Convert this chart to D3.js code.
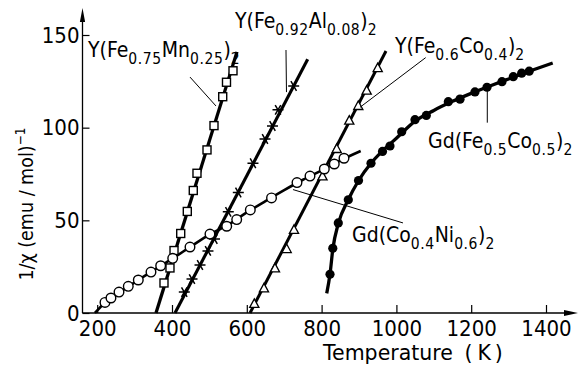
<!DOCTYPE html>
<html><head><meta charset="utf-8">
<script src="https://cdn.jsdelivr.net/npm/d3@7/dist/d3.min.js"></script>
<style>
html,body{margin:0;padding:0;background:#fff;}
svg text{font-family:"DejaVu Sans Condensed","Liberation Sans Narrow","DejaVu Sans",sans-serif;fill:#000;}
svg text.wide{font-family:"DejaVu Sans",sans-serif;}
</style></head>
<body><svg id="c" width="578" height="365"></svg>
<script>
// ---------------- data ----------------
const xTicks = [200, 400, 600, 800, 1000, 1200, 1400];
const yTicks = [0, 50, 100, 150];

// Y(Fe0.75Mn0.25)2 - open squares
const mnT = [378.6, 394.6, 405.4, 423.3, 440.9, 456.9, 466.8, 493.6, 512.3, 535.6, 545.7, 563.1];
const mnV = [16.2, 24.3, 33.7, 42.9, 54.8, 66.1, 75.4, 88.0, 101.1, 116.7, 124.5, 130.7];
const mnLineT = [357.2, 573.7];
const mnLineV = [0, 140.9];

// Y(Fe0.92Al0.08)2 - asterisks
const alT = [432.9, 453.5, 474.9, 496.2, 513.6, 550.5, 577.3, 616.5, 648.7, 668.7, 683.4, 725.4];
const alV = [11.3, 18.3, 25.9, 33.5, 39.9, 54.6, 65.0, 80.8, 93.9, 100.9, 109.6, 122.5];
const alLineT = [408.0, 762.8];
const alLineV = [0, 136.9];

// Y(Fe0.6Co0.4)2 - open triangles
const coT = [620.1, 645.9, 675.3, 706.6, 726.2, 802.4, 840.4, 874.0, 898.1, 920.5, 950.0];
const coV = [4.9, 13.3, 24.1, 34.5, 44.8, 73.7, 88.5, 103.8, 111.7, 120.0, 132.1];
const coLineT = [608.6, 972.2];
const coLineV = [0, 141.4];

// Gd(Co0.4Ni0.6)2 - open circles
const niT = [220.8, 236.8, 258.3, 283.1, 309.9, 343.8, 369.7, 401.9, 448.1, 501.5, 546.3, 573.0, 609.4, 666.1, 734.2, 769.0, 807.3, 833.9, 859.9];
const niV = [5.7, 8.1, 11.3, 14.4, 17.8, 22.1, 25.5, 29.5, 35.6, 42.6, 46.8, 50.4, 55.6, 62.1, 70.4, 73.9, 77.7, 80.4, 83.5];
const niLineT = [194, 221, 260, 300, 350, 400, 450, 500, 550, 600, 650, 700, 750, 800, 850, 904.5];
const niLineV = [0, 5.7, 11.2, 16.5, 22.9, 29.2, 35.8, 42.3, 47.5, 54.3, 60.4, 66.3, 71.9, 77.0, 82.3, 87.4];

// Gd(Fe0.5Co0.5)2 - filled circles
const gdT = [822.5, 829.9, 844.6, 871.4, 898.7, 932.1, 962.8, 982.9, 1014.2, 1049.7, 1080.0, 1138.8, 1170.1, 1210.1, 1242.2, 1282.3, 1312.5, 1334.9, 1355.0];
const gdV = [20.9, 34.9, 48.6, 61.1, 71.5, 80.8, 87.2, 90.1, 97.8, 104.3, 106.6, 114.0, 115.4, 119.3, 121.8, 124.8, 127.5, 129.4, 130.5];
const gdLineT = [813.7, 822.5, 830, 845, 871, 899, 932, 963, 1000, 1050, 1100, 1150, 1200, 1250, 1300, 1355, 1417.9];
const gdLineV = [10.6, 21, 34.5, 48.5, 61, 71.5, 80.8, 87.5, 94.3, 103.5, 109.3, 114.2, 118.5, 122.5, 126.3, 130.4, 134.9];

// labels: [text, subscript flag]
const labelMn = [["Y(Fe",""],["0.75","s"],["Mn",""],["0.25","s"],[")",""],["2","s"]];
const labelAl = [["Y(Fe",""],["0.92","s"],["Al",""],["0.08","s"],[")",""],["2","s"]];
const labelCo = [["Y(Fe",""],["0.6","s"],["Co",""],["0.4","s"],[")",""],["2","s"]];
const labelGd = [["Gd(Fe",""],["0.5","s"],["Co",""],["0.5","s"],[")",""],["2","s"]];
const labelNi = [["Gd(Co",""],["0.4","s"],["Ni",""],["0.6","s"],[")",""],["2","s"]];

// leader lines in data units [T1,V1,T2,V2]
const leaderMn = [448.1, 127.3, 517.6, 111.7];
const leaderAl = [704.8, 141.9, 706.1, 119.2];
const leaderCo = [1078.3, 137.8, 902.7, 111.0];
const leaderGd = [1243.0, 121.4, 1243.0, 102.7];
const leaderNi = [723.5, 66.6, 1017.6, 48.6];

// ---------------- drawing ----------------
const svg = d3.select("#c");
const x = d3.scaleLinear().domain([400, 1400]).range([172, 546]);
const y = d3.scaleLinear().domain([0, 150]).range([313, 35]);
const X0 = 82.5, Y0 = 313;

const zip = (a, b) => a.map((v, i) => [v, b[i]]);

// axes
const ax = svg.append("g").attr("transform", `translate(0,${Y0})`)
  .call(d3.axisBottom(x).tickValues(xTicks).tickSizeInner(-8).tickSizeOuter(0).tickPadding(7).tickFormat(d3.format("d")));
ax.select(".domain").remove();
ax.selectAll(".tick line").attr("stroke", "#000").attr("stroke-width", 1.2);
ax.selectAll(".tick text").attr("font-size", 22).attr("font-family", null);

const ay = svg.append("g").attr("transform", `translate(${X0},0)`)
  .call(d3.axisLeft(y).tickValues(yTicks).tickSizeInner(-7).tickSizeOuter(0).tickPadding(3));
ay.select(".domain").remove();
ay.selectAll(".tick line").attr("stroke", "#000").attr("stroke-width", 1.2);
ay.selectAll(".tick text").attr("font-size", 22).attr("font-family", null);

// axis lines with arrows
svg.append("line").attr("x1", X0).attr("x2", 566).attr("y1", Y0).attr("y2", Y0).attr("stroke", "#000").attr("stroke-width", 1.3);
svg.append("path").attr("d", `M578,${Y0}L564,${Y0-3}L564,${Y0+3}Z`).attr("fill", "#000");
svg.append("line").attr("x1", X0).attr("x2", X0).attr("y1", Y0).attr("y2", 20).attr("stroke", "#000").attr("stroke-width", 1.3);
svg.append("path").attr("d", `M${X0},8L${X0-2.6},22L${X0+2.6},22Z`).attr("fill", "#000");

// axis titles
const xt = svg.append("text").attr("class", "wide").attr("x", 323).attr("y", 359.5).attr("font-size", 20.5);
xt.append("tspan").text("Temperature");
xt.append("tspan").attr("dx", 5).text(" (");
xt.append("tspan").attr("dx", 5).text("K");
xt.append("tspan").attr("dx", 4).text(")");

const yt = svg.append("text").attr("transform", "translate(33,204) rotate(-90)").attr("text-anchor", "middle").attr("font-size", 19.5);
yt.append("tspan").text("1/χ (emu / mol)");
yt.append("tspan").attr("dy", -8).attr("font-size", 13.5).text("−1");

// lines
const lineGen = d3.line().x(d => x(d[0])).y(d => y(d[1]));
const curveGen = d3.line().x(d => x(d[0])).y(d => y(d[1])).curve(d3.curveMonotoneX);
function drawLine(T, V, w, curved) {
  svg.append("path").datum(zip(T, V)).attr("d", curved ? curveGen : lineGen)
    .attr("fill", "none").attr("stroke", "#000").attr("stroke-width", w).attr("stroke-linecap", "butt");
}
drawLine(mnLineT, mnLineV, 3.3, false);
drawLine(alLineT, alLineV, 3.1, false);
drawLine(coLineT, coLineV, 3.0, false);
drawLine(niLineT, niLineV, 2.6, true);
drawLine(gdLineT, gdLineV, 3.3, true);

// markers
svg.append("g").selectAll("rect").data(zip(mnT, mnV)).join("rect")
  .attr("x", d => x(d[0]) - 4).attr("y", d => y(d[1]) - 4).attr("width", 8).attr("height", 8)
  .attr("fill", "#fff").attr("stroke", "#000").attr("stroke-width", 1.4);

const ast = "M-5.5,0L5.5,0M-2.8,-4.8L2.8,4.8M2.8,-4.8L-2.8,4.8";
svg.append("g").selectAll("path").data(zip(alT, alV)).join("path")
  .attr("d", ast).attr("transform", d => `translate(${x(d[0])},${y(d[1])})`)
  .attr("fill", "none").attr("stroke", "#000").attr("stroke-width", 1.5);

svg.append("g").selectAll("path").data(zip(coT, coV)).join("path")
  .attr("d", "M0,-5L4.6,3.5L-4.6,3.5Z").attr("transform", d => `translate(${x(d[0])},${y(d[1])})`)
  .attr("fill", "#fff").attr("stroke", "#000").attr("stroke-width", 1.3);

svg.append("g").selectAll("circle").data(zip(niT, niV)).join("circle")
  .attr("cx", d => x(d[0])).attr("cy", d => y(d[1])).attr("r", 4.8)
  .attr("fill", "#fff").attr("stroke", "#000").attr("stroke-width", 1.4);

svg.append("g").selectAll("circle").data(zip(gdT, gdV)).join("circle")
  .attr("cx", d => x(d[0])).attr("cy", d => y(d[1])).attr("r", 4.6)
  .attr("fill", "#000");

// leader lines
[leaderMn, leaderAl, leaderCo, leaderGd, leaderNi].forEach(l => {
  svg.append("line").attr("x1", x(l[0])).attr("y1", y(l[1])).attr("x2", x(l[2])).attr("y2", y(l[3]))
    .attr("stroke", "#000").attr("stroke-width", 1);
});

// series labels
function label(parts, px, py) {
  const t = svg.append("text").attr("x", px).attr("y", py).attr("font-size", 21);
  let sub = false;
  parts.forEach(p => {
    const isSub = p[1] === "s";
    const ts = t.append("tspan").text(p[0]);
    if (isSub && !sub) ts.attr("dy", 7);
    if (!isSub && sub) ts.attr("dy", -7);
    if (isSub) ts.attr("font-size", 15.5).attr("letter-spacing", 0.6);
    sub = isSub;
  });
}
label(labelMn, 88, 57);
label(labelAl, 235, 28);
label(labelCo, 395, 53);
label(labelGd, 428, 148);
label(labelNi, 352, 242);
</script></body></html>
